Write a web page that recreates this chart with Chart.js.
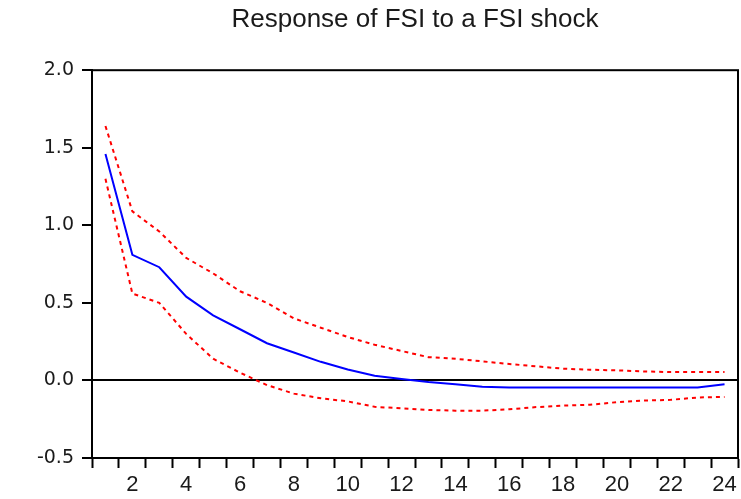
<!DOCTYPE html>
<html>
<head>
<meta charset="utf-8">
<title>Response of FSI to a FSI shock</title>
<script src="https://cdn.jsdelivr.net/npm/chart.js@4.4.1/dist/chart.umd.min.js"></script>
<style>
    html, body { margin: 0; padding: 0; background: #fff; }
    #wrap { width: 741px; height: 499px; }
</style>
</head>
<body>
<div id="wrap"><canvas id="irf"></canvas></div>
<script>
// Impulse response, 24 periods
const periods = ['1', '2', '3', '4', '5', '6', '7', '8', '9', '10', '11', '12',
                 '13', '14', '15', '16', '17', '18', '19', '20', '21', '22', '23', '24'];

const response = [1.46, 0.81, 0.73, 0.54, 0.42, 0.33, 0.24, 0.18, 0.12, 0.07, 0.03, 0.01,
                  -0.01, -0.025, -0.04, -0.045, -0.045, -0.045, -0.045, -0.045, -0.045, -0.045, -0.045, -0.025];

// +/- 2 S.E. bands
const upperBand = [1.64, 1.09, 0.96, 0.79, 0.69, 0.575, 0.50, 0.40, 0.34, 0.28, 0.23, 0.19,
                   0.15, 0.14, 0.123, 0.106, 0.091, 0.076, 0.069, 0.065, 0.058, 0.054, 0.054, 0.054];

const lowerBand = [1.30, 0.56, 0.50, 0.30, 0.14, 0.05, -0.03, -0.085, -0.115, -0.135, -0.17, -0.18,
                   -0.19, -0.195, -0.195, -0.186, -0.172, -0.162, -0.157, -0.14, -0.13, -0.125, -0.11, -0.106];

const yTicks = [-0.5, 0.0, 0.5, 1.0, 1.5, 2.0];

// box around the plot area
const frame = {
    id: 'frame',
    afterDatasetsDraw(chart) {
        const a = chart.chartArea;
        const ctx = chart.ctx;
        ctx.save();
        ctx.strokeStyle = '#000';
        ctx.lineWidth = 2;
        ctx.strokeRect(a.left, a.top, a.right - a.left, a.bottom - a.top);
        ctx.restore();
    }
};

const ctx = document.getElementById('irf').getContext('2d');

new Chart(ctx, {
    type: 'line',
    data: {
        labels: periods,
        datasets: [
            {
                label: 'upper',
                data: upperBand,
                borderColor: '#ff0000',
                borderWidth: 2,
                borderDash: [4, 4],
                pointRadius: 0,
                tension: 0,
                fill: false
            },
            {
                label: 'lower',
                data: lowerBand,
                borderColor: '#ff0000',
                borderWidth: 2,
                borderDash: [4, 4],
                pointRadius: 0,
                tension: 0,
                fill: false
            },
            {
                label: 'FSI',
                data: response,
                borderColor: '#0000ff',
                borderWidth: 2,
                pointRadius: 0,
                tension: 0,
                fill: false
            }
        ]
    },
    plugins: [frame],
    options: {
        responsive: true,
        maintainAspectRatio: false,
        animation: false,
        layout: {
            padding: { left: 0, right: 3, top: 0, bottom: 0 }
        },
        plugins: {
            legend: { display: false },
            tooltip: { enabled: false },
            title: {
                display: true,
                fullSize: false,   // centre over the plot area, like the original
                text: 'Response of FSI to a FSI shock',
                color: '#1a1a1a',
                font: { family: 'Liberation Sans, Arial, sans-serif', size: 26, weight: 'normal' },
                padding: { top: 4, bottom: 35 }
            }
        },
        scales: {
            x: {
                type: 'category',
                offset: true,
                grid: {
                    offset: true,
                    drawOnChartArea: false,
                    tickLength: 10,
                    tickWidth: 2,
                    tickColor: '#000'
                },
                border: { display: true, color: '#000', width: 2 },
                ticks: {
                    autoSkip: false,
                    maxRotation: 0,
                    padding: 4,
                    color: '#1a1a1a',
                    font: { family: 'Liberation Sans, Arial, sans-serif', size: 22 },
                    callback: function (value, index) {
                        return (index + 1) % 2 === 0 ? this.getLabelForValue(value) : '';
                    }
                },
                afterFit(scale) {
                    scale.height = 41;
                }
            },
            y: {
                min: -0.5,
                max: 2.0,
                afterBuildTicks(scale) {
                    scale.ticks = yTicks.map(v => ({ value: v }));
                },
                grid: {
                    drawOnChartArea: true,
                    tickLength: 10,
                    tickWidth: 2,
                    tickColor: '#000',
                    lineWidth: 2,
                    color: c => (c.tick && c.tick.value === 0 ? '#000' : 'rgba(0,0,0,0)')
                },
                border: { display: true, color: '#000', width: 2 },
                ticks: {
                    padding: 8,
                    color: '#1a1a1a',
                    font: { family: 'DejaVu Sans, sans-serif', size: 19 },
                    callback: v => Number(v).toFixed(1)
                },
                afterFit(scale) {
                    scale.width = 92;
                }
            }
        }
    }
});
</script>
</body>
</html>
